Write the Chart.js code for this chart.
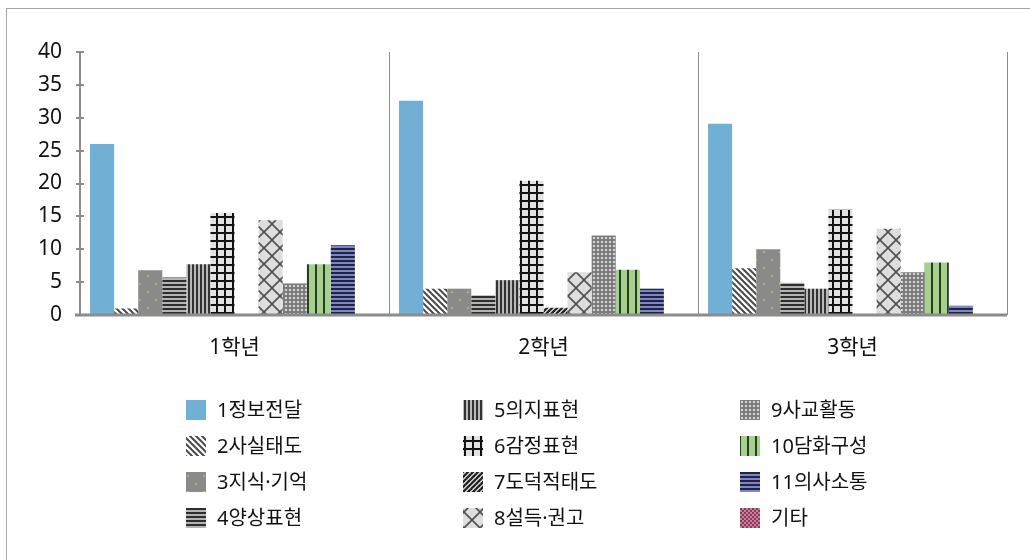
<!DOCTYPE html>
<html>
<head>
<meta charset="utf-8">
<script src="https://cdn.jsdelivr.net/npm/chart.js@4"></script>
<style>
  body { margin: 0; background: #fff; }
  #wrap { position: relative; width: 1030px; height: 560px; overflow: hidden; }
  #frame { position: absolute; left: 6px; top: 8px; width: 1100px; height: 700px; border: 1px solid #a6a6a6; pointer-events: none; }
</style>
</head>
<body>
<div id="wrap">
  <canvas id="chart" width="1030" height="560"></canvas>
  <div id="frame"></div>
</div>
<script>
const grades = ['1학년', '2학년', '3학년'];
const seriesNames = ['1정보전달', '2사실태도', '3지식·기억', '4양상표현', '5의지표현', '6감정표현',
                     '7도덕적태도', '8설득·권고', '9사교활동', '10담화구성', '11의사소통', '기타'];
const info      = [26.0, 32.6, 29.1];
const fact      = [1.0, 4.0, 7.1];
const knowledge = [6.8, 4.0, 10.0];
const aspect    = [5.7, 3.0, 4.9];
const will      = [7.7, 5.3, 4.0];
const emotion   = [15.5, 20.4, 16.0];
const moral     = [0, 1.1, 0];
const persuade  = [14.4, 6.5, 13.1];
const social    = [4.8, 12.1, 6.5];
const discourse = [7.7, 6.9, 8.0];
const communic  = [10.6, 4.0, 1.4];
const etc       = [0, 0, 0];
const yTicks = [0, 5, 10, 15, 20, 25, 30, 35, 40];

const FONT = "'Noto Sans', 'Noto Sans CJK KR', sans-serif";

// small tile canvases turned into repeating fills
function tile(w, h, draw) {
  const c = document.createElement('canvas');
  c.width = w; c.height = h;
  const g = c.getContext('2d');
  draw(g, w, h);
  return g.createPattern(c, 'repeat');
}

const fills = [
  '#71afd4',
  tile(6, 6, (g) => {            // wide downward diagonal
    g.fillStyle = '#fff'; g.fillRect(0, 0, 6, 6);
    g.strokeStyle = '#4a4a4a'; g.lineWidth = 2;
    for (let o = -6; o <= 6; o += 6) { g.beginPath(); g.moveTo(o - 1, -1); g.lineTo(o + 7, 7); g.stroke(); }
  }),
  tile(16, 16, (g) => {          // gray with small dots
    g.fillStyle = '#8a8a8a'; g.fillRect(0, 0, 16, 16);
    g.fillStyle = '#b9ad72'; g.fillRect(3, 3, 2, 2); g.fillRect(11, 11, 2, 2);
  }),
  tile(1, 4, (g) => {            // horizontal stripes
    g.fillStyle = '#2e2e2e'; g.fillRect(0, 0, 1, 2);
    g.fillStyle = '#b4b4b4'; g.fillRect(0, 2, 1, 2);
  }),
  tile(4, 1, (g) => {            // vertical stripes
    g.fillStyle = '#333'; g.fillRect(0, 0, 2, 1);
    g.fillStyle = '#b8b8b8'; g.fillRect(2, 0, 2, 1);
  }),
  tile(8, 8, (g) => {            // grid
    g.fillStyle = '#e2e2e2'; g.fillRect(0, 0, 8, 8);
    g.fillStyle = '#111'; g.fillRect(0, 0, 8, 2); g.fillRect(0, 0, 2, 8);
  }),
  tile(5, 5, (g) => {            // wide upward diagonal
    g.fillStyle = '#dedede'; g.fillRect(0, 0, 5, 5);
    g.strokeStyle = '#1e1e1e'; g.lineWidth = 2.2;
    for (let o = 0; o <= 10; o += 5) { g.beginPath(); g.moveTo(o + 1, -1); g.lineTo(o - 6, 6); g.stroke(); }
  }),
  tile(16, 16, (g) => {          // diamond lattice
    g.fillStyle = '#dedede'; g.fillRect(0, 0, 16, 16);
    g.strokeStyle = '#505050'; g.lineWidth = 1.6;
    g.beginPath(); g.moveTo(0, 0); g.lineTo(16, 16); g.moveTo(16, 0); g.lineTo(0, 16); g.stroke();
  }),
  tile(4, 4, (g) => {            // fine dotted
    g.fillStyle = '#7c7c7c'; g.fillRect(0, 0, 4, 4);
    g.fillStyle = '#d6d6d6'; g.fillRect(1, 1, 2, 2);
  }),
  tile(8, 1, (g) => {            // green with dark verticals
    g.fillStyle = '#a4d18c'; g.fillRect(0, 0, 8, 1);
    g.fillStyle = '#2c3a28'; g.fillRect(3, 0, 2, 1);
  }),
  tile(1, 4, (g) => {            // navy stripes
    g.fillStyle = '#1f2444'; g.fillRect(0, 0, 1, 2);
    g.fillStyle = '#7f86c2'; g.fillRect(0, 2, 1, 2);
  }),
  tile(4, 4, (g) => {            // maroon checker
    g.fillStyle = '#c6829c'; g.fillRect(0, 0, 4, 4);
    g.fillStyle = '#873a59'; g.fillRect(0, 0, 2, 2); g.fillRect(2, 2, 2, 2);
  })
];

const values = [info, fact, knowledge, aspect, will, emotion, moral, persuade, social, discourse, communic, etc];

// Legend in three columns, filled top to bottom
const columnLegend = {
  id: 'columnLegend',
  afterDraw(chart) {
    const ctx = chart.ctx;
    const colX = [186, 463, 740];
    const rowY = [410, 446, 482, 518];
    ctx.save();
    ctx.font = '20px ' + FONT;
    ctx.textBaseline = 'middle';
    chart.data.datasets.forEach((ds, i) => {
      const x = colX[Math.floor(i / 4)];
      const y = rowY[i % 4];
      ctx.fillStyle = ds.backgroundColor;
      ctx.fillRect(x, y - 10, 20, 20);
      ctx.fillStyle = '#111';
      ctx.fillText(ds.label, x + 31, y + 1);
    });
    ctx.restore();
  }
};

// Axis lines with ticks crossing the value axis
const axisMarks = {
  id: 'axisMarks',
  afterDraw(chart) {
    const ctx = chart.ctx;
    const y = chart.scales.y;
    const area = chart.chartArea;
    ctx.save();
    ctx.strokeStyle = '#8c8c8c';
    ctx.lineWidth = 2;
    ctx.beginPath();
    ctx.moveTo(area.left, y.getPixelForValue(40));
    ctx.lineTo(area.left, area.bottom);
    yTicks.forEach(v => {
      const py = Math.round(y.getPixelForValue(v));
      ctx.moveTo(area.left - 4, py);
      ctx.lineTo(area.left + 4, py);
    });
    ctx.stroke();
    ctx.lineWidth = 3;
    ctx.beginPath();
    ctx.moveTo(area.left - 5, area.bottom);
    ctx.lineTo(area.right, area.bottom);
    ctx.stroke();
    ctx.restore();
  }
};

new Chart(document.getElementById('chart'), {
  type: 'bar',
  data: {
    labels: grades,
    datasets: seriesNames.map((name, i) => ({
      label: name,
      data: values[i],
      backgroundColor: fills[i],
      borderWidth: 0,
      barPercentage: 1,
      categoryPercentage: 0.935
    }))
  },
  options: {
    responsive: false,
    animation: false,
    layout: { padding: { left: 0, top: 52, right: 23, bottom: 0 } },
    plugins: {
      legend: { display: false },
      tooltip: { enabled: false }
    },
    scales: {
      x: {
        afterFit(scale) { scale.height = 245; },
        grid: { offset: true, color: '#8c8c8c', lineWidth: 1, drawTicks: false },
        border: { display: false },
        ticks: { color: '#111', padding: 20, font: { family: FONT, size: 21 } }
      },
      y: {
        min: 0,
        max: 40,
        afterFit(scale) { scale.width = 80; },
        afterBuildTicks(scale) { scale.ticks = yTicks.map(v => ({ value: v })); },
        grid: { display: false, drawTicks: false },
        border: { display: false },
        ticks: { color: '#111', padding: 18, font: { family: FONT, size: 21 } }
      }
    }
  },
  plugins: [columnLegend, axisMarks]
});
</script>
</body>
</html>
